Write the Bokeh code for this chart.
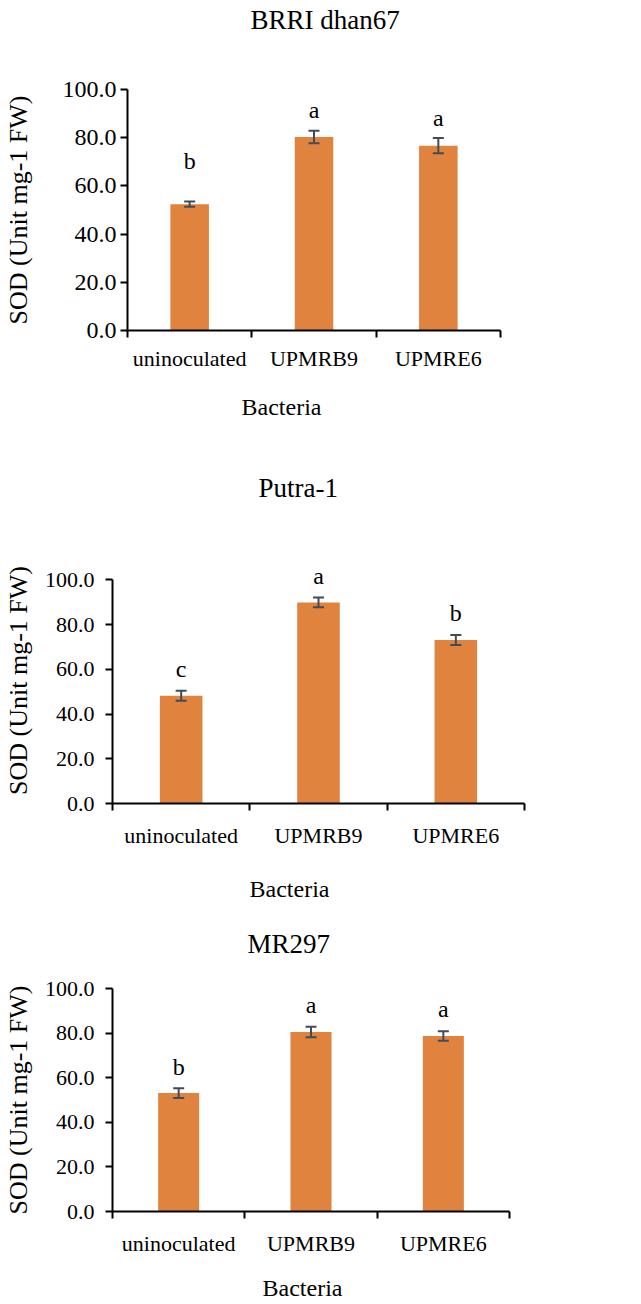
from bokeh.plotting import figure
from bokeh.models import ColumnDataSource, Range1d, FixedTicker, Whisker, TeeHead, Title
from bokeh.layouts import column
from bokeh.core.properties import value
from bokeh.embed import file_html
from bokeh.resources import INLINE

# ---------------- data ----------------
categories = ["uninoculated", "UPMRB9", "UPMRE6"]
panel_titles = ["BRRI dhan67", "Putra-1", "MR297"]
x_title = "Bacteria"
y_title = "SOD (Unit mg-1 FW)"
y_ticks = [0, 20, 40, 60, 80, 100]
y_tick_labels = ["0.0", "20.0", "40.0", "60.0", "80.0", "100.0"]

sod_brri = [52.4, 80.3, 76.7]
err_brri = [1.1, 2.6, 3.2]
letters_brri = ["b", "a", "a"]
letter_y_brri = [70.2, 91.3, 88.0]

sod_putra = [48.2, 89.9, 73.1]
err_putra = [2.2, 2.2, 2.2]
letters_putra = ["c", "a", "b"]
letter_y_putra = [60.3, 101.8, 85.3]

sod_mr = [53.1, 80.5, 78.7]
err_mr = [2.2, 2.4, 2.1]
letters_mr = ["b", "a", "a"]
letter_y_mr = [64.6, 92.8, 91.0]

FONT = "Liberation Serif"
BAR = "#E0833F"
ERR = "#404C57"


def spacer_title(size):
    # blank title used only to reserve space in a side panel
    return Title(text=" ", text_font_size="1px", standoff=size)


def make_panel(title, vals, errs, letters, letter_y, y_max, g):
    xs = [i + 0.5 for i in range(len(categories))]
    src = ColumnDataSource(dict(
        x=xs, top=vals,
        upper=[v + e for v, e in zip(vals, errs)],
        lower=[v - e for v, e in zip(vals, errs)],
        letter=letters, ly=letter_y,
    ))
    p = figure(frame_width=g["fw"], frame_height=g["fh"],
               min_border_left=g["left"], min_border_right=g["right"],
               min_border_top=g["top"], min_border_bottom=g["bottom"],
               x_range=Range1d(0, len(categories)), y_range=Range1d(0, y_max),
               title=None, output_backend="svg", toolbar_location=None, tools="")
    p.frame_align = False
    p.outline_line_color = None
    p.xgrid.visible = False
    p.ygrid.visible = False
    p.background_fill_color = "white"
    p.border_fill_color = "white"

    xa = p.below[0]
    ya = p.left[0]

    p.vbar(x="x", top="top", width=0.31, source=src,
           fill_color=BAR, line_color=None)
    w = Whisker(base="x", upper="upper", lower="lower", source=src,
                line_color=ERR, line_width=2,
                upper_head=TeeHead(size=11, line_color=ERR, line_width=2),
                lower_head=TeeHead(size=11, line_color=ERR, line_width=2))
    w.level = "overlay"
    p.add_layout(w)
    p.text(x="x", y="ly", text="letter", source=src,
           text_font=value(FONT), text_font_size="24px",
           text_align="center", text_baseline="middle", text_color="black")

    # x axis: boundary ticks as minor ticks, category names at centres
    xa.ticker = FixedTicker(ticks=xs, minor_ticks=list(range(len(categories) + 1)))
    xa.major_label_overrides = {x: c for x, c in zip(xs, categories)}
    xa.major_tick_line_color = None
    xa.major_tick_out = 0
    xa.major_tick_in = 0
    xa.minor_tick_line_color = "black"
    xa.minor_tick_line_width = 2
    xa.minor_tick_out = 7
    xa.minor_tick_in = 0
    xa.axis_line_color = "black"
    xa.axis_line_width = 2
    xa.major_label_text_font = FONT
    xa.major_label_text_font_size = "22px"
    xa.major_label_text_color = "black"
    xa.major_label_standoff = g["xt_stand"]

    # y axis
    ya.ticker = FixedTicker(ticks=y_ticks)
    ya.bounds = (0, 100)
    ya.major_label_overrides = {t: l for t, l in zip(y_ticks, y_tick_labels)}
    ya.minor_tick_line_color = None
    ya.major_tick_line_color = "black"
    ya.major_tick_line_width = 2
    ya.major_tick_out = 7
    ya.major_tick_in = 0
    ya.axis_line_color = "black"
    ya.axis_line_width = 2
    ya.major_label_text_font = FONT
    ya.major_label_text_font_size = g["yt_size"]
    ya.major_label_text_color = "black"
    ya.major_label_standoff = g["yt_stand"]
    ya.axis_label = y_title
    ya.axis_label_text_font = FONT
    ya.axis_label_text_font_size = "26px"
    ya.axis_label_text_font_style = "normal"
    ya.axis_label_text_color = "black"
    ya.axis_label_standoff = g["yl_stand"]

    # chart title, separated from the frame by a spacer
    p.add_layout(spacer_title(g["t_gap"]), "above")
    p.add_layout(Title(text=title, align="left", offset=g["t_off"], standoff=2,
                       vertical_align="top", text_font=FONT, text_font_size="27px",
                       text_font_style="normal", text_color="black"), "above")

    # x axis title, separated from the tick labels by a spacer
    p.add_layout(spacer_title(g["b_gap"]), "below")
    p.add_layout(Title(text=x_title, align="left", offset=g["b_off"], standoff=2,
                       vertical_align="top", text_font=FONT, text_font_size="24px",
                       text_font_style="normal", text_color="black"), "below")
    return p


g1 = dict(fw=373, fh=241, left=126, right=142, top=89, bottom=100,
          t_off=123, t_gap=49, xt_stand=8, yt_size="24px", yt_stand=4,
          yl_stand=27, b_off=114, b_gap=16)
g2 = dict(fw=412, fh=246, left=110, right=119, top=127, bottom=102,
          t_off=146, t_gap=49, xt_stand=12, yt_size="22px", yt_stand=11,
          yl_stand=9, b_off=137, b_gap=21)
g3 = dict(fw=397, fh=223, left=110, right=134, top=83, bottom=93,
          t_off=135, t_gap=24, xt_stand=12, yt_size="22px", yt_stand=11,
          yl_stand=9, b_off=150, b_gap=12)

p1 = make_panel(panel_titles[0], sod_brri, err_brri, letters_brri, letter_y_brri, 100, g1)
p2 = make_panel(panel_titles[1], sod_putra, err_putra, letters_putra, letter_y_putra, 110, g2)
p3 = make_panel(panel_titles[2], sod_mr, err_mr, letters_mr, letter_y_mr, 100, g3)

layout = column(p1, p2, p3, spacing=0)
open("out.html", "w").write(file_html(layout, INLINE))
